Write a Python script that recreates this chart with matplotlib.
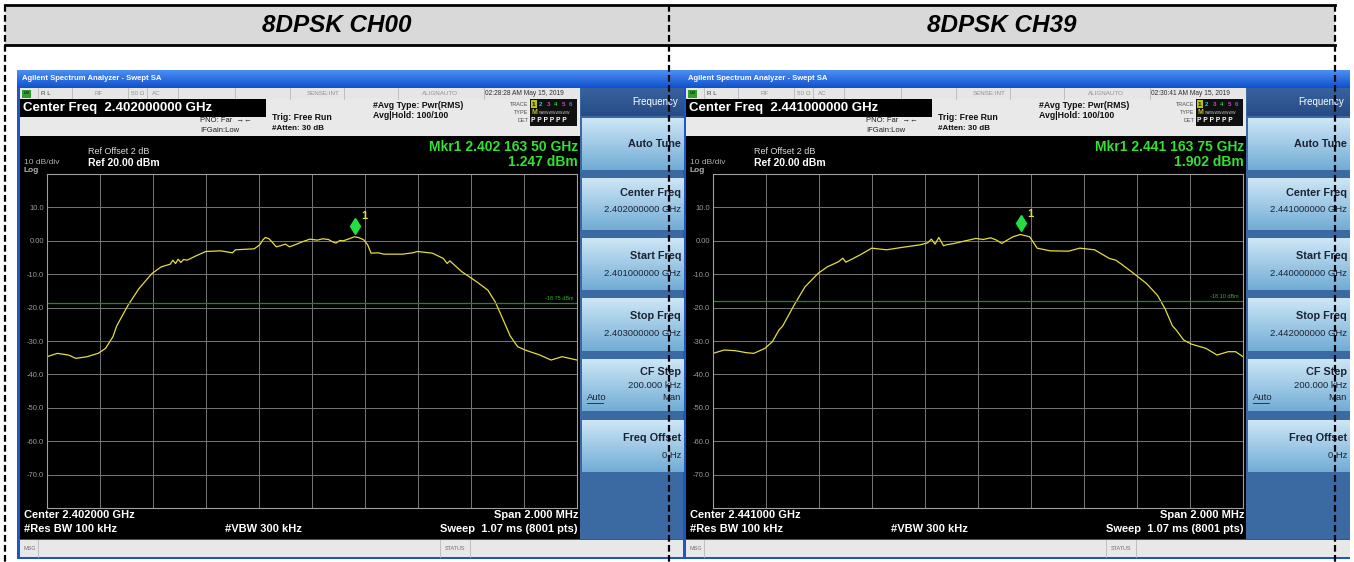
import numpy as np
import matplotlib.pyplot as plt
from matplotlib.patches import Rectangle

plt.rcParams['font.family'] = ['Liberation Sans', 'DejaVu Sans']

W, H = 1354, 562

# values (x: offset from centre in MHz, y: dBm)
titles = ["8DPSK CH00", "8DPSK CH39"]
center_ghz = ["2.402000000", "2.441000000"]
start_ghz = ["2.401000000", "2.440000000"]
stop_ghz = ["2.403000000", "2.442000000"]
center_short = ["2.402000", "2.441000"]
clock = ["02:28:28 AM May 15, 2019", "02:30:41 AM May 15, 2019"]
mkr_freq = [0.1635, 0.16375]
mkr_level = [1.247, 1.902]
mkr_label = ["2.402 163 50 GHz", "2.441 163 75 GHz"]
line_level = [-18.75, -18.10]

freq_ch00 = [-1.000, -0.961, -0.919, -0.891, -0.849, -0.807, -0.779, -0.751, -0.737,
             -0.695, -0.653, -0.604, -0.569, -0.535, -0.525, -0.515, -0.505, -0.495,
             -0.485, -0.471, -0.440, -0.401, -0.345, -0.300, -0.289, -0.218, -0.197,
             -0.186, -0.176, -0.162, -0.148, -0.135, -0.120, -0.100, -0.085, -0.064,
             -0.040, -0.008, 0.020, 0.040, 0.062, 0.075, 0.090, 0.105, 0.118, 0.140,
             0.160, 0.175, 0.195, 0.210, 0.223, 0.250, 0.272, 0.342, 0.380, 0.398,
             0.420, 0.454, 0.496, 0.510, 0.520, 0.538, 0.566, 0.622, 0.664, 0.692,
             0.720, 0.748, 0.776, 0.804, 0.860, 0.902, 0.944, 1.000]
level_ch00 = [-34.7, -33.7, -34.2, -35.2, -34.7, -33.7, -32.2, -28.7, -25.5,
              -19.4, -14.3, -9.8, -7.8, -7.0, -5.8, -6.8, -5.5, -6.5,
              -5.6, -5.8, -4.6, -3.2, -3.0, -3.6, -2.7, -2.4, -1.2,
              0.2, 1.0, 0.6, -0.6, -1.8, -1.5, -1.0, -1.8, -1.2,
              -0.4, 0.5, 0.2, 0.6, 0.4, -0.2, -0.7, 0.1, 0.0, 0.6,
              1.2, 1.0, 0.3, -1.2, -3.7, -3.6, -4.0, -4.0, -3.6, -3.2,
              -3.4, -3.7, -5.3, -6.8, -6.0, -7.3, -9.3, -12.3, -14.8, -18.4,
              -23.4, -28.5, -31.7, -32.7, -34.2, -35.7, -34.7, -35.7]

freq_ch39 = [-1.000, -0.958, -0.916, -0.874, -0.846, -0.804, -0.776, -0.751, -0.737,
             -0.695, -0.653, -0.604, -0.569, -0.527, -0.510, -0.499, -0.471, -0.440,
             -0.401, -0.345, -0.289, -0.218, -0.190, -0.176, -0.162, -0.148, -0.130,
             -0.120, -0.090, -0.064, -0.030, -0.008, 0.020, 0.048, 0.070, 0.090,
             0.110, 0.132, 0.160, 0.175, 0.195, 0.210, 0.223, 0.272, 0.342, 0.384,
             0.440, 0.496, 0.520, 0.538, 0.580, 0.636, 0.678, 0.706, 0.734, 0.748,
             0.776, 0.804, 0.860, 0.902, 0.944, 0.972, 1.000]
level_ch39 = [-33.7, -32.7, -32.9, -33.5, -33.7, -32.2, -30.2, -26.7, -25.5,
              -19.4, -13.8, -9.8, -7.8, -6.3, -5.2, -6.4, -5.3, -4.0,
              -2.2, -2.7, -2.0, -1.2, -0.6, 0.5, -1.0, 1.0, -1.5,
              -1.2, -0.8, -0.3, 0.3, 0.7, 0.4, 0.9, 0.2, -0.8,
              0.2, 1.2, 1.9, 1.6, 1.2, -0.6, -2.2, -3.0, -3.1, -2.2,
              -2.7, -5.3, -5.8, -6.8, -9.3, -12.8, -16.4, -20.4, -25.5, -26.7,
              -29.7, -30.9, -32.2, -34.2, -33.2, -33.2, -34.7]

traces = [(freq_ch00, level_ch00), (freq_ch39, level_ch39)]

fig = plt.figure(figsize=(W / 100, H / 100), dpi=100)
fig.patch.set_facecolor('white')

bg = fig.add_axes([0, 0, 1, 1])
bg.set_xlim(0, W)
bg.set_ylim(H, 0)
bg.axis('off')


def rect(x0, y0, x1, y1, fc, ec='none', lw=0, z=1):
    bg.add_patch(Rectangle((x0, y0), x1 - x0, y1 - y0, facecolor=fc, edgecolor=ec, lw=lw, zorder=z))


def grad(x0, y0, x1, y1, top, bottom, z=1):
    t = np.linspace(0, 1, 24)[:, None, None]
    c = (1 - t) * np.array(top)[None, None, :] + t * np.array(bottom)[None, None, :]
    bg.imshow(c, extent=(x0, x1, y1, y0), aspect='auto', interpolation='bilinear', zorder=z)


def txt(x, y, s, size, color='black', weight='normal', ha='left', style='normal', z=5, **kw):
    bg.text(x, y, s, fontsize=size, color=color, fontweight=weight, ha=ha, va='center',
            fontstyle=style, zorder=z, **kw)


# table header
rect(5, 5, 1335, 45, '#d9d9d9')
txt(336.5, 26, titles[0], 17.5, weight='bold', ha='center', style='italic')
txt(1001.5, 26, titles[1], 17.5, weight='bold', ha='center', style='italic')

buttons = [(118, 170), (178, 230), (238, 290), (298, 351), (359, 411), (420, 472)]

for i in range(2):
    dx = 666 * i
    X = lambda v: v + dx
    # window frame and title bar
    rect(X(17), 70, X(684), 559, '#1d56c8')
    grad(X(17), 70, X(684), 88, (0.30, 0.56, 0.96), (0.06, 0.32, 0.80))
    txt(X(22), 79, "Agilent Spectrum Analyzer - Swept SA", 5.5, 'white', 'bold')
    # status row
    rect(X(20), 88, X(580), 99, '#e6e6e6')
    for sx in [38, 72, 128, 147, 178, 235, 290, 344, 398, 484]:
        bg.plot([X(sx), X(sx)], [88, 99], color='#b8b8b8', lw=0.6, zorder=2)
    rect(X(22), 89.5, X(31), 97.5, '#2f9e2f', z=3)
    txt(X(26.5), 93.5, "LXI", 3, 'black', ha='center')
    txt(X(41), 93.5, "R L", 4.5, '#404040')
    txt(X(99), 93.5, "RF", 4.5, '#909090', ha='center')
    txt(X(131), 93.5, "50 Ω", 4.5, '#909090')
    txt(X(152), 93.5, "AC", 4.5, '#909090')
    txt(X(323), 93.5, "SENSE:INT", 4.5, '#909090', ha='center')
    txt(X(440), 93.5, "ALIGNAUTO", 4.5, '#909090', ha='center')
    txt(X(485), 93.5, clock[i], 4.8, '#303030')
    # info panel
    rect(X(20), 99, X(580), 136, '#e9e9e9')
    rect(X(20), 99, X(266), 117, 'black', z=2)
    txt(X(23), 108, "Center Freq  " + center_ghz[i] + " GHz", 9.5, 'white', 'bold')
    txt(X(200), 121, "PNO: Far  →←", 5.5, '#202020')
    txt(X(200), 130, "IFGain:Low", 5.5, '#202020')
    txt(X(272), 118, "Trig: Free Run", 6.3, '#101010', 'bold')
    txt(X(272), 128, "#Atten: 30 dB", 5.8, '#101010', 'bold')
    txt(X(373), 105, "#Avg Type: Pwr(RMS)", 6.3, '#101010', 'bold')
    txt(X(373), 116, "Avg|Hold: 100/100", 6.3, '#101010', 'bold')
    txt(X(528), 104, "TRACE", 4, '#505050', ha='right')
    txt(X(528), 112, "TYPE", 4, '#505050', ha='right')
    txt(X(528), 121, "DET", 4, '#505050', ha='right')
    rect(X(530), 99, X(577), 126, '#101010', z=2)
    rect(X(530.5), 100, X(537), 108, '#b8c020', z=3)
    for k, col in enumerate(['#101010', '#30c0e0', '#d040d0', '#30d030', '#c040c0', '#6060ff']):
        txt(X(533.5 + 7.5 * k), 104, str(k + 1), 4.5, col, 'bold', ha='center', z=4)
    txt(X(531), 112, "M", 5, '#c8c020', 'bold', z=4)
    txt(X(538), 112, "wwwwwwwww", 3.5, '#b0b0b0', z=4)
    txt(X(531), 121, "P P P P P P", 4.8, 'white', 'bold', z=4)
    # black display
    rect(X(20), 136, X(580), 539, 'black')
    txt(X(88), 152, "Ref Offset 2 dB", 6.5, '#d8d8d8')
    txt(X(24), 163, "10 dB/div", 6, '#b0b0b0')
    txt(X(24), 171, "Log", 6, '#b0b0b0', 'bold')
    txt(X(88), 163, "Ref 20.00 dBm", 7.5, 'white', 'bold')
    txt(X(578), 147, "Mkr1 " + mkr_label[i], 10, '#33e033', 'bold', ha='right')
    txt(X(578), 162, "%.3f dBm" % mkr_level[i], 10, '#33e033', 'bold', ha='right')
    txt(X(24), 515, "Center " + center_short[i] + " GHz", 8, 'white', 'bold')
    txt(X(24), 529, "#Res BW 100 kHz", 8, 'white', 'bold')
    txt(X(225), 529, "#VBW 300 kHz", 8, 'white', 'bold')
    txt(X(578), 515, "Span 2.000 MHz", 8, 'white', 'bold', ha='right')
    txt(X(578), 529, "Sweep  1.07 ms (8001 pts)", 8, 'white', 'bold', ha='right')
    # soft keys
    rect(X(580), 88, X(684), 539, '#3b6aa2')
    grad(X(581), 88, X(684), 116, (0.22, 0.38, 0.62), (0.15, 0.30, 0.52), z=2)
    txt(X(632), 102, "Frequency", 7, 'white')
    for (b0, b1) in buttons:
        grad(X(582), b0, X(684), b1, (0.80, 0.90, 0.96), (0.45, 0.68, 0.84), z=2)
    keys = [("Auto Tune", None, 144), ("Center Freq", center_ghz[i] + " GHz", 193),
            ("Start Freq", start_ghz[i] + " GHz", 256), ("Stop Freq", stop_ghz[i] + " GHz", 316),
            ("CF Step", "200.000 kHz", 372), ("Freq Offset", "0 Hz", 438)]
    for lab, val, ky in keys:
        txt(X(681), ky, lab, 7.8, '#1c2333', 'bold', ha='right')
        if val:
            txt(X(681), ky + 17 if lab != "CF Step" else ky + 13, val, 6.8, '#1c2333', ha='right')
    txt(X(587), 398, "Auto", 6.8, '#1c2333')
    bg.plot([X(587), X(603)], [402.5, 402.5], color='#1c2333', lw=0.6, zorder=5)
    txt(X(681), 398, "Man", 6.8, '#1c2333', ha='right')
    # message bar
    rect(X(20), 540, X(684), 557, '#e8e8e8')
    for sx in [38, 440, 470]:
        bg.plot([X(sx), X(sx)], [540, 557], color='#b8b8b8', lw=0.6, zorder=2)
    txt(X(24), 548.5, "MSG", 4, '#707070')
    txt(X(455), 548.5, "STATUS", 4, '#707070', ha='center')

    # graticule with the trace
    gx0, gy0, gx1, gy1 = X(47), 174, X(577), 508
    ax = fig.add_axes([gx0 / W, 1 - gy1 / H, (gx1 - gx0) / W, (gy1 - gy0) / H])
    ax.set_facecolor('black')
    ax.set_xlim(-1, 1)
    ax.set_ylim(-80, 20)
    ax.set_xticks(np.arange(-1, 1.01, 0.2))
    ax.set_yticks(np.arange(-80, 21, 10))
    ax.set_xticklabels([])
    ylabs = ['', '-70.0', '-60.0', '-50.0', '-40.0', '-30.0', '-20.0', '-10.0', '0.00', '10.0', '']
    ax.set_yticklabels(ylabs, fontsize=5.5, color='#9a9a9a')
    ax.tick_params(length=0, pad=2)
    ax.grid(True, color='#767676', lw=0.7)
    for s in ax.spines.values():
        s.set_color('#a0a0a0')
        s.set_linewidth(0.8)
    f, lv = traces[i]
    ax.plot(f, lv, color='#e4de3a', lw=0.9)
    ax.axhline(line_level[i], color='#1d8a1d', lw=0.9)
    ax.text(0.985, line_level[i] + 0.8, "%.2f dBm" % line_level[i], fontsize=4,
            color='#2fb02f', ha='right', va='bottom')
    ax.plot([mkr_freq[i]], [mkr_level[i] + 3.3], marker='d', ms=8, color='#22dd44',
            markeredgecolor='#22dd44')
    ax.text(mkr_freq[i] + 0.035, mkr_level[i] + 6.2, "1", fontsize=8, color='#e8e040',
            fontweight='bold', ha='center', va='center')

# table grid lines drawn on top
ov = fig.add_axes([0, 0, 1, 1], zorder=10)
ov.set_xlim(0, W)
ov.set_ylim(H, 0)
ov.axis('off')
ov.patch.set_alpha(0)
ov.plot([5, 1335], [5, 5], color='black', lw=2)
ov.plot([5, 1335], [45, 45], color='black', lw=2)
for vx in [5, 668.5, 1334.5]:
    ov.plot([vx, vx], [5, 562], color='black', lw=1.6, dashes=(3, 1.5))

fig.savefig('out.png', dpi=100)
